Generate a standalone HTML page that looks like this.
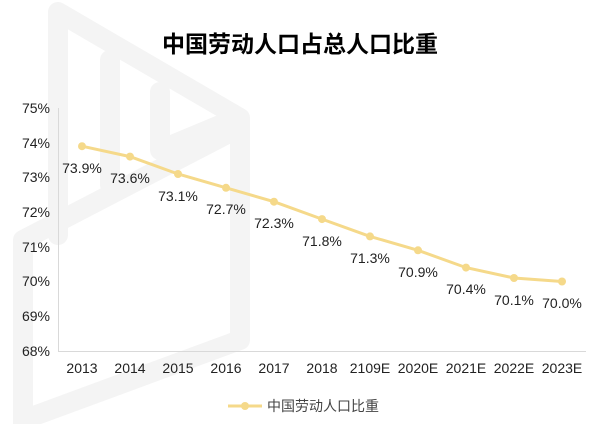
<!DOCTYPE html>
<html><head><meta charset="utf-8"><style>
body{margin:0;background:#fff;}
svg{display:block;font-family:"Liberation Sans","Noto Sans CJK SC",sans-serif;}
</style></head><body>
<svg width="600" height="424" viewBox="0 0 600 424">
<g stroke="#f4f4f4" stroke-width="20" fill="none" stroke-linejoin="round" stroke-linecap="round">
<path d="M58 235 L58 12 L240 118 L240 340 L23 420"/>
<path d="M23 424 L23 240 L235 130"/>
<path d="M110 60 L110 185"/>
<path d="M160 92 L160 150 L220 125"/>
</g>
<text x="300" y="52" text-anchor="middle" font-size="23" font-weight="bold" fill="#000">中国劳动人口占总人口比重</text>
<line x1="58.5" y1="108" x2="58.5" y2="351" stroke="#d9d9d9"/>
<line x1="58" y1="351.5" x2="586" y2="351.5" stroke="#d9d9d9"/>
<g font-size="14" fill="#222" text-anchor="end">
<text x="50" y="113">75%</text><text x="50" y="148">74%</text><text x="50" y="182">73%</text><text x="50" y="217">72%</text><text x="50" y="252">71%</text><text x="50" y="286">70%</text><text x="50" y="321">69%</text><text x="50" y="356">68%</text>
</g>
<g font-size="14" fill="#222" text-anchor="middle">
<text x="82" y="373">2013</text><text x="130" y="373">2014</text><text x="178" y="373">2015</text><text x="226" y="373">2016</text><text x="274" y="373">2017</text><text x="322" y="373">2018</text><text x="370" y="373">2109E</text><text x="418" y="373">2020E</text><text x="466" y="373">2021E</text><text x="514" y="373">2022E</text><text x="562" y="373">2023E</text>
</g>
<polyline fill="none" stroke="#f5d98a" stroke-width="3" points="82,146.2 130,156.6 178,174 226,187.8 274,201.7 322,219.1 370,236.4 418,250.3 466,267.6 514,278 562,281.5"/>
<g fill="#f5d98a">
<circle cx="82" cy="146.2" r="4"/><circle cx="130" cy="156.6" r="4"/><circle cx="178" cy="174" r="4"/><circle cx="226" cy="187.8" r="4"/><circle cx="274" cy="201.7" r="4"/><circle cx="322" cy="219.1" r="4"/><circle cx="370" cy="236.4" r="4"/><circle cx="418" cy="250.3" r="4"/><circle cx="466" cy="267.6" r="4"/><circle cx="514" cy="278" r="4"/><circle cx="562" cy="281.5" r="4"/>
</g>
<g font-size="14" fill="#222" text-anchor="middle">
<text x="82" y="173">73.9%</text><text x="130" y="183">73.6%</text><text x="178" y="201">73.1%</text><text x="226" y="214">72.7%</text><text x="274" y="228">72.3%</text><text x="322" y="246">71.8%</text><text x="370" y="263">71.3%</text><text x="418" y="277">70.9%</text><text x="466" y="294">70.4%</text><text x="514" y="305">70.1%</text><text x="562" y="308">70.0%</text>
</g>
<line x1="228" y1="406" x2="262" y2="406" stroke="#f5d98a" stroke-width="3"/>
<circle cx="245" cy="406" r="4" fill="#f5d98a"/>
<text x="267" y="411" font-size="14" fill="#444">中国劳动人口比重</text>
</svg>
</body></html>
